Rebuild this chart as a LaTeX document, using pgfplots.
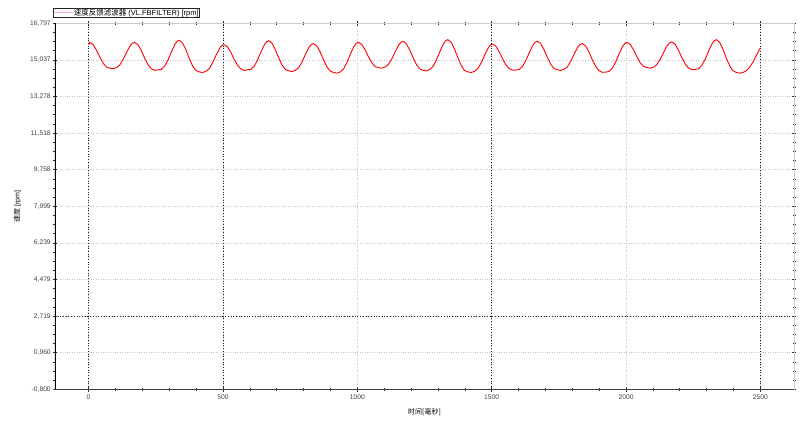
\documentclass[border=0pt]{standalone}
\usepackage{fontspec}
\setmainfont{Liberation Sans}
\newfontfamily\cjk{Noto Sans CJK SC}
\usepackage{pgfplots}
\pgfplotsset{compat=1.18}
\begin{document}
\begin{tikzpicture}
\path[use as bounding box] (0,0) rectangle (808pt,421pt);
\begin{axis}[
  at={(55pt,31.7pt)}, anchor=south west,
  scale only axis, width=739pt, height=366pt,
  xmin=-125, xmax=2625, ymin=-0.8, ymax=16.797,
  xtick={0,500,1000,1500,2000,2500},
  xticklabels={0,500,1000,1500,2000,2500},
  ytick={-0.8,0.9597,2.7194,4.4791,6.2388,7.9985,9.7582,11.5179,13.2776,15.0373,16.797},
  yticklabels={{-0,800},{0,960},{2,719},{4,479},{6,239},{7,999},{9,758},{11,518},{13,278},{15,037},{16,797}},
  minor x tick num=4, minor y tick num=3,
  tick align=center, major tick length=4.5pt, minor tick length=3pt,
  tick style={black!80, line width=0.6pt},
  ticklabel style={font=\fontsize{6.7}{7}\selectfont, text=black!75},
  yticklabel style={xshift=1.5pt},
  xmajorgrids, ymajorgrids,
  major grid style={dotted, gray!45, line width=0.7pt},
  axis line style={gray!40, line width=0.6pt},
  extra x ticks={0,500,1500,2500}, extra x tick labels={},
  extra y ticks={2.7194}, extra y tick labels={},
  extra tick style={major grid style={dotted, black!85, line width=0.7pt}, major tick length=0pt},
  xlabel={{\cjk 时间[毫秒]}}, ylabel={{\cjk 速度} [rpm]},
  label style={font=\fontsize{7}{8}\selectfont},
  legend style={at={(axis description cs:0,1)}, anchor=south west, xshift=-2pt, yshift=5.5pt,
    font=\fontsize{7.5}{8}\selectfont, inner sep=0.3pt, draw=black!85, line width=0.6pt,
    nodes={inner sep=0.6pt}},
  legend image code/.code={\draw[red!30, line width=0.6pt] (0pt,0pt) -- (19pt,0pt);},
]
\addplot[red, line width=0.9pt] coordinates {
(0,15.77) (4,15.88) (16,15.79) (29,15.51) (41,15.19) (54,14.88) (66,14.70) (79,14.64) (91,14.61) (104,14.67) (116,14.79) (129,15.07) (141,15.39) (154,15.70) (162,15.83)
(171,15.88) (183,15.78) (196,15.49) (208,15.14) (221,14.81) (233,14.62) (246,14.53) (258,14.56) (271,14.58) (283,14.74) (296,15.05) (308,15.42) (321,15.78) (329,15.92)
(337,15.98) (349,15.86) (362,15.53) (374,15.13) (387,14.75) (399,14.53) (412,14.46) (424,14.43) (437,14.49) (449,14.62) (462,14.91) (474,15.25) (487,15.58) (495,15.72)
(504,15.77) (516,15.68) (529,15.41) (541,15.09) (554,14.79) (566,14.61) (579,14.53) (591,14.56) (604,14.58) (616,14.73) (629,15.04) (641,15.41) (654,15.76) (662,15.91)
(670,15.96) (682,15.85) (695,15.53) (707,15.15) (720,14.79) (732,14.58) (745,14.51) (757,14.48) (770,14.54) (782,14.67) (795,14.96) (807,15.30) (820,15.63) (828,15.77)
(837,15.82) (849,15.71) (862,15.41) (874,15.05) (887,14.70) (899,14.50) (912,14.43) (924,14.40) (937,14.46) (949,14.61) (962,14.93) (974,15.31) (987,15.67) (995,15.82)
(1004,15.88) (1016,15.79) (1029,15.52) (1041,15.20) (1054,14.90) (1066,14.72) (1079,14.66) (1091,14.64) (1104,14.70) (1116,14.82) (1129,15.10) (1141,15.43) (1154,15.75) (1162,15.88)
(1170,15.93) (1182,15.82) (1195,15.52) (1207,15.16) (1220,14.81) (1232,14.61) (1245,14.53) (1257,14.51) (1270,14.58) (1282,14.72) (1295,15.05) (1307,15.43) (1320,15.80) (1328,15.95)
(1337,16.01) (1349,15.89) (1362,15.55) (1374,15.15) (1387,14.76) (1399,14.53) (1412,14.46) (1424,14.43) (1437,14.49) (1449,14.63) (1462,14.92) (1474,15.27) (1487,15.61) (1495,15.75)
(1503,15.80) (1515,15.71) (1528,15.43) (1540,15.11) (1553,14.80) (1565,14.62) (1578,14.54) (1590,14.55) (1603,14.58) (1615,14.73) (1628,15.03) (1640,15.39) (1653,15.74) (1661,15.88)
(1670,15.93) (1682,15.83) (1695,15.52) (1707,15.17) (1720,14.82) (1732,14.62) (1745,14.56) (1757,14.53) (1770,14.59) (1782,14.71) (1795,14.99) (1807,15.32) (1820,15.64) (1828,15.77)
(1837,15.82) (1849,15.72) (1862,15.42) (1874,15.06) (1887,14.72) (1899,14.52) (1912,14.44) (1924,14.45) (1937,14.48) (1949,14.64) (1962,14.95) (1974,15.32) (1987,15.68) (1995,15.82)
(2003,15.88) (2015,15.79) (2028,15.52) (2040,15.20) (2053,14.90) (2065,14.72) (2078,14.67) (2090,14.64) (2103,14.69) (2115,14.82) (2128,15.09) (2140,15.41) (2153,15.73) (2161,15.85)
(2170,15.90) (2182,15.80) (2195,15.51) (2207,15.17) (2220,14.84) (2232,14.65) (2245,14.57) (2257,14.58) (2270,14.61) (2282,14.77) (2295,15.08) (2307,15.45) (2320,15.81) (2328,15.95)
(2336,16.01) (2348,15.89) (2361,15.54) (2373,15.13) (2386,14.74) (2398,14.51) (2411,14.43) (2423,14.40) (2436,14.44) (2448,14.52) (2461,14.70) (2473,14.95) (2486,15.28) (2500,15.62)
};
\addlegendentry{{\cjk 速度反馈滤波器} (VL.FBFILTER) [rpm]}
\draw[black, line width=1.2pt] (rel axis cs:0,0) -- (rel axis cs:0,1);
\draw[black!75, line width=0.8pt] (rel axis cs:0,0) -- (rel axis cs:1,0);
\end{axis}
\end{tikzpicture}
\end{document}
